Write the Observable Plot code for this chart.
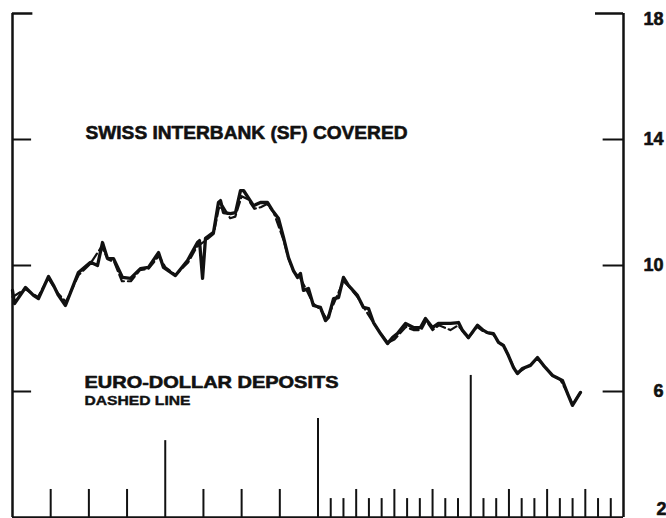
<!DOCTYPE html>
<html>
<head>
<meta charset="utf-8">
<script src="https://cdn.jsdelivr.net/npm/d3@7"></script>
<script src="https://cdn.jsdelivr.net/npm/@observablehq/plot@0.6"></script>
<style>
  html, body { margin: 0; padding: 0; background: #fff; }
  svg { display: block; }
</style>
</head>
<body>
<div id="chart"></div>
<script>
// Time axis in months (4 years, 48 months)
const swissMonths = [0,0.16,1.02,1.65,2.04,2.83,3.22,3.61,4.16,4.71,5.18,6.13,6.68,7.07,7.46,7.93,8.64,9.27,10.05,10.68,11.47,11.86,12.8,13.75,14.53,14.69,14.93,15.16,15.79,16.18,16.34,16.58,17.12,17.52,17.91,18.15,18.93,19.48,20.03,20.42,20.9,21.29,21.68,22.07,22.39,22.62,22.86,23.25,23.64,24.19,24.59,24.82,25.22,25.61,26.0,26.39,27.1,27.57,27.97,28.36,28.91,29.46,29.85,30.24,30.87,31.5,32.05,32.44,32.99,33.46,34.41,35.04,35.35,35.82,36.53,37.0,37.31,37.78,38.18,38.57,38.96,39.36,39.67,40.06,40.69,41.24,41.71,42.42,42.89,43.2,43.6,43.99,44.62];
const swissRates = [9.21,8.79,9.30,9.05,8.95,9.65,9.37,9.05,8.73,9.30,9.78,10.10,10.00,10.73,10.22,10.22,9.62,9.59,9.90,9.94,10.41,9.94,9.68,10.16,10.73,10.79,9.59,10.86,11.05,12.0,12.06,11.68,11.65,11.68,12.38,12.38,11.90,12.0,12.0,11.75,11.49,10.89,10.25,9.84,9.62,9.75,9.21,9.27,8.73,8.67,8.25,8.35,8.95,8.98,9.62,9.37,9.05,8.67,8.63,8.19,7.84,7.52,7.71,7.84,8.16,8.03,8.03,8.32,8.03,8.16,8.16,8.19,7.94,7.71,8.10,7.94,7.87,7.84,7.56,7.46,7.14,6.76,6.57,6.73,6.83,7.08,6.83,6.51,6.41,6.35,5.94,5.56,5.97];

const euroMonths = [0,1.0,2.0,2.8,3.6,4.2,5.2,6.1,7.0,7.5,8.0,8.6,9.3,10.0,10.7,11.5,12.0,12.8,13.8,14.5,15.2,15.8,16.2,16.5,17.1,17.5,18.0,18.5,19.0,19.5,20.0,20.5,21.3,21.7,22.1,22.6,23.0,23.6,24.2,24.7,25.3,26.0,26.5,27.1,27.7,28.4,29.0,29.5,30.0,30.9,31.5,32.1,32.5,33.0,33.5,34.4,35.0,35.4,35.8,36.5,37.0,37.8,38.2,38.6,39.0,39.4,39.7,40.1,40.7,41.2,41.7,42.4,43.0,43.6,44.0,44.6];
const euroRates = [9.0,9.25,9.0,9.6,9.1,8.85,9.7,10.05,10.6,10.2,10.1,9.5,9.5,9.85,9.9,10.3,9.95,9.7,10.1,10.6,10.8,11.0,11.8,11.9,11.5,11.55,12.2,12.1,11.8,11.85,11.95,11.7,10.8,10.2,9.8,9.6,9.3,8.8,8.6,8.3,8.85,9.5,9.3,9.0,8.6,8.15,7.8,7.55,7.65,8.05,7.95,7.95,8.25,7.95,8.1,7.95,8.1,7.9,7.7,8.05,7.9,7.8,7.55,7.45,7.1,6.75,6.6,6.7,6.85,7.05,6.85,6.5,6.4,5.95,5.6,5.95];

const yTickValues = [2, 6, 10, 14, 18];
const yearTicks = [12, 24, 36];
const yearTickTops = [4.44, 5.14, 6.51];
const quarterTicks = [3, 6, 9, 15, 18, 21, 27, 30, 33, 39, 42, 45];
const monthTicks = [25, 26, 28, 29, 31, 32, 34, 35, 37, 38, 40, 41, 43, 44, 46, 47];

const swiss = swissMonths.map((m, i) => ({m, v: swissRates[i]}));
const euro = euroMonths.map((m, i) => ({m, v: euroRates[i]}));
const years = yearTicks.map((m, i) => ({m, top: yearTickTops[i]}));

const X0 = 0, X1 = 48, Y0 = 2, Y1 = 18;
const ink = "#111";
const font = "'Liberation Sans', Arial, Helvetica, sans-serif";
const heavy = {fontWeight: "bold", fill: ink, stroke: ink, strokeWidth: 0.6};

const chart = Plot.plot({
  width: 666,
  height: 518,
  marginLeft: 12,
  marginRight: 43,
  marginTop: 13,
  marginBottom: 1,
  x: {domain: [X0, X1], axis: null},
  y: {domain: [Y0, Y1], axis: null},
  style: {fontFamily: font, color: ink, background: "#fff", overflow: "visible"},
  marks: [
    // frame
    Plot.ruleX([X0, X1], {y1: Y0, y2: Y1, stroke: ink, strokeWidth: 2.5}),
    Plot.ruleY([Y0], {x1: X0, x2: X1, stroke: ink, strokeWidth: 2.5}),
    Plot.ruleY([Y1], {x1: X0, x2: 1.6, stroke: ink, strokeWidth: 2.5}),
    Plot.ruleY([Y1], {x1: 45.8, x2: X1, stroke: ink, strokeWidth: 2.5}),
    // y ticks on both sides
    Plot.ruleY(yTickValues.slice(1, -1), {x1: X0, x2: 1.5, stroke: ink, strokeWidth: 2}),
    Plot.ruleY(yTickValues.slice(1, -1), {x1: 46.4, x2: X1, stroke: ink, strokeWidth: 2}),
    // bottom ticks
    Plot.ruleX(monthTicks, {y1: Y0, y2: 2.6, stroke: ink, strokeWidth: 2}),
    Plot.ruleX(quarterTicks, {y1: Y0, y2: 2.89, stroke: ink, strokeWidth: 2}),
    Plot.ruleX(years, {x: "m", y1: Y0, y2: "top", stroke: ink, strokeWidth: 2}),
    // right axis labels
    Plot.text(yTickValues.slice(1, -1), {x: X1, y: d => d, dx: 40, textAnchor: "end", fontSize: 18, ...heavy}),
    Plot.text([Y1], {x: X1, y: d => d, dx: 40, dy: 6, textAnchor: "end", fontSize: 18, ...heavy}),
    Plot.text([Y0], {x: X1, y: d => d, dx: 43, dy: -8, textAnchor: "end", fontSize: 18, ...heavy}),
    // series
    Plot.line(euro, {x: "m", y: "v", stroke: ink, strokeWidth: 2.2, strokeDasharray: "9,4", curve: "linear"}),
    Plot.line(swiss, {x: "m", y: "v", stroke: ink, strokeWidth: 3.3, strokeLinejoin: "round", curve: "linear"}),
    // annotations
    Plot.text(["SWISS INTERBANK (SF) COVERED"], {frameAnchor: "top-left", dx: 73, dy: 112, textAnchor: "start", fontSize: 19, lineAnchor: "top", ...heavy}),
    Plot.text(["EURO-DOLLAR DEPOSITS"], {frameAnchor: "top-left", dx: 72, dy: 362, textAnchor: "start", fontSize: 17, lineAnchor: "top", ...heavy}),
    Plot.text(["DASHED LINE"], {frameAnchor: "top-left", dx: 72, dy: 382, textAnchor: "start", fontSize: 13, lineAnchor: "top", fontWeight: "bold", fill: ink, stroke: ink, strokeWidth: 0.4})
  ]
});

document.getElementById("chart").appendChild(chart);

// condense the annotation text widths like the original typeface
const widths = {"SWISS INTERBANK (SF) COVERED": 322, "EURO-DOLLAR DEPOSITS": 254, "DASHED LINE": 106};
d3.select(chart).selectAll("text").each(function() {
  const t = this.textContent;
  if (widths[t]) {
    this.setAttribute("textLength", widths[t]);
    this.setAttribute("lengthAdjust", "spacingAndGlyphs");
  }
});
</script>
</body>
</html>
